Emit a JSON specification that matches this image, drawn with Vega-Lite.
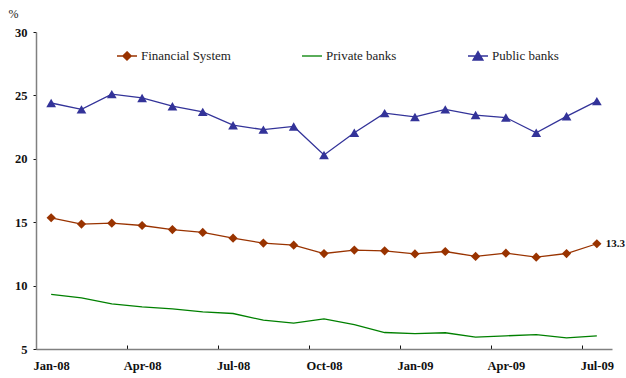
{
  "$schema": "https://vega.github.io/schema/vega-lite/v6.json",
  "width": 576,
  "height": 317,
  "autosize": {"type": "none"},
  "padding": {"left": 36, "top": 32, "right": 14, "bottom": 29},
  "background": "white",
  "config": {
    "view": {"stroke": null},
    "font": "Liberation Serif",
    "axis": {"grid": false, "labelFont": "Liberation Serif", "labelFontWeight": "bold", "labelFontSize": 12.5, "labelColor": "#111", "domainColor": "#808080", "domainWidth": 1.5, "tickColor": "#111"},
    "legend": {
      "orient": "none", "direction": "horizontal", "legendX": 80, "legendY": 13,
      "symbolSize": 400, "symbolStrokeWidth": 1.3, "labelOffset": 3, "columnPadding": 68,
      "labelFont": "Liberation Serif", "labelFontSize": 13, "labelColor": "#222", "symbolOpacity": 1
    }
  },
  "data": {"values": [
    {"month": "Jan-08", "series": "Financial System", "value": 15.35},
    {"month": "Feb-08", "series": "Financial System", "value": 14.85},
    {"month": "Mar-08", "series": "Financial System", "value": 14.92},
    {"month": "Apr-08", "series": "Financial System", "value": 14.74},
    {"month": "May-08", "series": "Financial System", "value": 14.42},
    {"month": "Jun-08", "series": "Financial System", "value": 14.19},
    {"month": "Jul-08", "series": "Financial System", "value": 13.74},
    {"month": "Aug-08", "series": "Financial System", "value": 13.35},
    {"month": "Sep-08", "series": "Financial System", "value": 13.19},
    {"month": "Oct-08", "series": "Financial System", "value": 12.53},
    {"month": "Nov-08", "series": "Financial System", "value": 12.8},
    {"month": "Dec-08", "series": "Financial System", "value": 12.74},
    {"month": "Jan-09", "series": "Financial System", "value": 12.5},
    {"month": "Feb-09", "series": "Financial System", "value": 12.69},
    {"month": "Mar-09", "series": "Financial System", "value": 12.3},
    {"month": "Apr-09", "series": "Financial System", "value": 12.56},
    {"month": "May-09", "series": "Financial System", "value": 12.24},
    {"month": "Jun-09", "series": "Financial System", "value": 12.53},
    {"month": "Jul-09", "series": "Financial System", "value": 13.3},
    {"month": "Jan-08", "series": "Private banks", "value": 9.3},
    {"month": "Feb-08", "series": "Private banks", "value": 9.04},
    {"month": "Mar-08", "series": "Private banks", "value": 8.56},
    {"month": "Apr-08", "series": "Private banks", "value": 8.33},
    {"month": "May-08", "series": "Private banks", "value": 8.17},
    {"month": "Jun-08", "series": "Private banks", "value": 7.93},
    {"month": "Jul-08", "series": "Private banks", "value": 7.8},
    {"month": "Aug-08", "series": "Private banks", "value": 7.27},
    {"month": "Sep-08", "series": "Private banks", "value": 7.04},
    {"month": "Oct-08", "series": "Private banks", "value": 7.38},
    {"month": "Nov-08", "series": "Private banks", "value": 6.93},
    {"month": "Dec-08", "series": "Private banks", "value": 6.3},
    {"month": "Jan-09", "series": "Private banks", "value": 6.22},
    {"month": "Feb-09", "series": "Private banks", "value": 6.28},
    {"month": "Mar-09", "series": "Private banks", "value": 5.93},
    {"month": "Apr-09", "series": "Private banks", "value": 6.04},
    {"month": "May-09", "series": "Private banks", "value": 6.14},
    {"month": "Jun-09", "series": "Private banks", "value": 5.88},
    {"month": "Jul-09", "series": "Private banks", "value": 6.04},
    {"month": "Jan-08", "series": "Public banks", "value": 24.4},
    {"month": "Feb-08", "series": "Public banks", "value": 23.9},
    {"month": "Mar-08", "series": "Public banks", "value": 25.1},
    {"month": "Apr-08", "series": "Public banks", "value": 24.8},
    {"month": "May-08", "series": "Public banks", "value": 24.15},
    {"month": "Jun-08", "series": "Public banks", "value": 23.7},
    {"month": "Jul-08", "series": "Public banks", "value": 22.65},
    {"month": "Aug-08", "series": "Public banks", "value": 22.3},
    {"month": "Sep-08", "series": "Public banks", "value": 22.55},
    {"month": "Oct-08", "series": "Public banks", "value": 20.3},
    {"month": "Nov-08", "series": "Public banks", "value": 22.05},
    {"month": "Dec-08", "series": "Public banks", "value": 23.6},
    {"month": "Jan-09", "series": "Public banks", "value": 23.3},
    {"month": "Feb-09", "series": "Public banks", "value": 23.9},
    {"month": "Mar-09", "series": "Public banks", "value": 23.45},
    {"month": "Apr-09", "series": "Public banks", "value": 23.25},
    {"month": "May-09", "series": "Public banks", "value": 22.05},
    {"month": "Jun-09", "series": "Public banks", "value": 23.35},
    {"month": "Jul-09", "series": "Public banks", "value": 24.55}
  ]},
  "encoding": {
    "x": {
      "field": "month", "type": "ordinal", "sort": null,
      "scale": {"type": "point", "padding": 0.5},
      "axis": {
        "title": null, "labelAngle": 0,
        "values": ["Jan-08", "Apr-08", "Jul-08", "Oct-08", "Jan-09", "Apr-09", "Jul-09"],
        "tickOffset": -15.16, "labelOffset": 15.16,
        "tickSize": -4, "labelPadding": 14
      }
    },
    "y": {
      "field": "value", "type": "quantitative",
      "scale": {"domain": [5, 30], "nice": false, "zero": false},
      "axis": {
        "values": [5, 10, 15, 20, 25, 30], "tickSize": 3,
        "labelPadding": 6,
        "title": "%", "titleAngle": 0, "titleX": -23, "titleY": -19,
        "titleAlign": "center", "titleBaseline": "middle",
        "titleFont": "Liberation Serif", "titleFontWeight": "normal", "titleFontSize": 12, "titleColor": "#222"
      }
    }
  },
  "layer": [
    {
      "mark": {"type": "line", "strokeWidth": 1.3},
      "encoding": {
        "stroke": {"field": "series", "type": "nominal", "title": null,
          "scale": {"domain": ["Financial System", "Private banks", "Public banks"], "range": ["#993300", "#008000", "#333399"]},
          "legend": {"labelFont": "Liberation Serif", "labelFontSize": 13, "labelColor": "#222", "orient": "none", "legendX": 80, "legendY": 13, "direction": "horizontal", "columnPadding": 68, "labelOffset": 3}}
      }
    },
    {
      "transform": [{"filter": "datum.series === 'Financial System'"}],
      "mark": {"type": "point", "shape": "diamond", "filled": true, "opacity": 1, "size": 85, "color": "#993300"}
    },
    {
      "transform": [{"filter": "datum.series === 'Public banks'"}],
      "mark": {"type": "point", "shape": "triangle-up", "filled": true, "opacity": 1, "size": 95, "color": "#333399"}
    },
    {
      "transform": [{"filter": "datum.series === 'Financial System' && datum.month === 'Jul-09'"}],
      "mark": {"type": "text", "align": "left", "baseline": "middle", "dx": 9, "font": "Liberation Serif", "fontWeight": "bold", "fontSize": 11, "color": "#111"},
      "encoding": {"text": {"field": "value", "type": "quantitative", "format": ".1f"}}
    },
    {
      "mark": {"type": "point", "filled": true, "opacity": 1, "size": 0, "strokeWidth": 0},
      "encoding": {
        "fill": {"field": "series", "type": "nominal", "title": null,
          "scale": {"domain": ["Financial System", "Private banks", "Public banks"], "range": ["#993300", "#008000", "#333399"]},
          "legend": {"labelFont": "Liberation Serif", "labelFontSize": 13, "labelColor": "#222", "orient": "none", "legendX": 80, "legendY": 13, "direction": "horizontal", "columnPadding": 68, "labelOffset": 3}},
        "stroke": {"field": "series", "type": "nominal", "title": null,
          "scale": {"domain": ["Financial System", "Private banks", "Public banks"], "range": ["#993300", "#008000", "#333399"]},
          "legend": {"labelFont": "Liberation Serif", "labelFontSize": 13, "labelColor": "#222", "orient": "none", "legendX": 80, "legendY": 13, "direction": "horizontal", "columnPadding": 68, "labelOffset": 3}},
        "shape": {"field": "series", "type": "nominal", "title": null,
          "scale": {"domain": ["Financial System", "Private banks", "Public banks"],
            "range": ["M-1,0H1M0,-0.42L0.42,0L0,0.42L-0.42,0Z", "M-1,0H1", "M-1,0H1M0,-0.45L0.5,0.4L-0.5,0.4Z"]},
          "legend": {"labelFont": "Liberation Serif", "labelFontSize": 13, "labelColor": "#222", "orient": "none", "legendX": 80, "legendY": 13, "direction": "horizontal", "columnPadding": 68, "labelOffset": 3}}
      }
    }
  ]
}
